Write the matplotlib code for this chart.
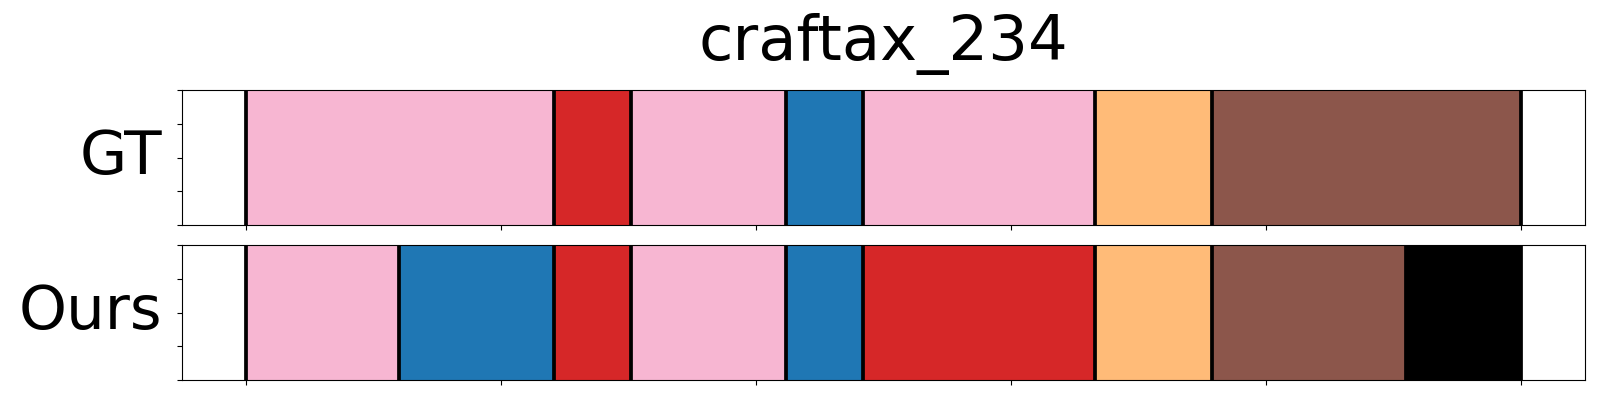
import matplotlib
matplotlib.use("Agg")
import matplotlib.pyplot as plt

title = "craftax_234"
rows = ["GT", "Ours"]

# segment boundaries (frame index) and colours per row
gt_bounds = [0, 121, 151, 212, 242, 333, 379, 500]
gt_colors = ["#f7b6d2", "#d62728", "#f7b6d2", "#1f77b4", "#f7b6d2", "#ffbb78", "#8c564b"]

ours_bounds = [0, 60, 121, 151, 212, 242, 333, 379, 455, 500]
ours_colors = ["#f7b6d2", "#1f77b4", "#d62728", "#f7b6d2", "#1f77b4", "#d62728", "#ffbb78", "#8c564b", "#000000"]

fig = plt.figure(figsize=(16, 4), dpi=100)
ax1 = fig.add_axes([0.1136, 0.4375, 0.877, 0.3365])
ax2 = fig.add_axes([0.1136, 0.05, 0.877, 0.3375])

for ax, name, bounds, colors in [(ax1, rows[0], gt_bounds, gt_colors),
                                  (ax2, rows[1], ours_bounds, ours_colors)]:
    for i in range(len(colors)):
        ax.axvspan(bounds[i], bounds[i + 1], color=colors[i], lw=0.5)
    for b in bounds:
        ax.axvline(b, color="black", lw=2.7)
    ax.set_xlim(bounds[0] - 25, bounds[-1] + 25)
    ax.set_ylim(0, 1)
    ax.set_yticks([0, 0.25, 0.5, 0.75, 1])
    ax.set_xticks([0, 100, 200, 300, 400, 500])
    ax.set_yticklabels([])
    ax.set_xticklabels([])
    ax.set_ylabel(name, fontsize=44, rotation=0, ha="right", va="center", labelpad=7)

ax1.set_title(title, fontsize=45, pad=22)

fig.savefig("out.png")
